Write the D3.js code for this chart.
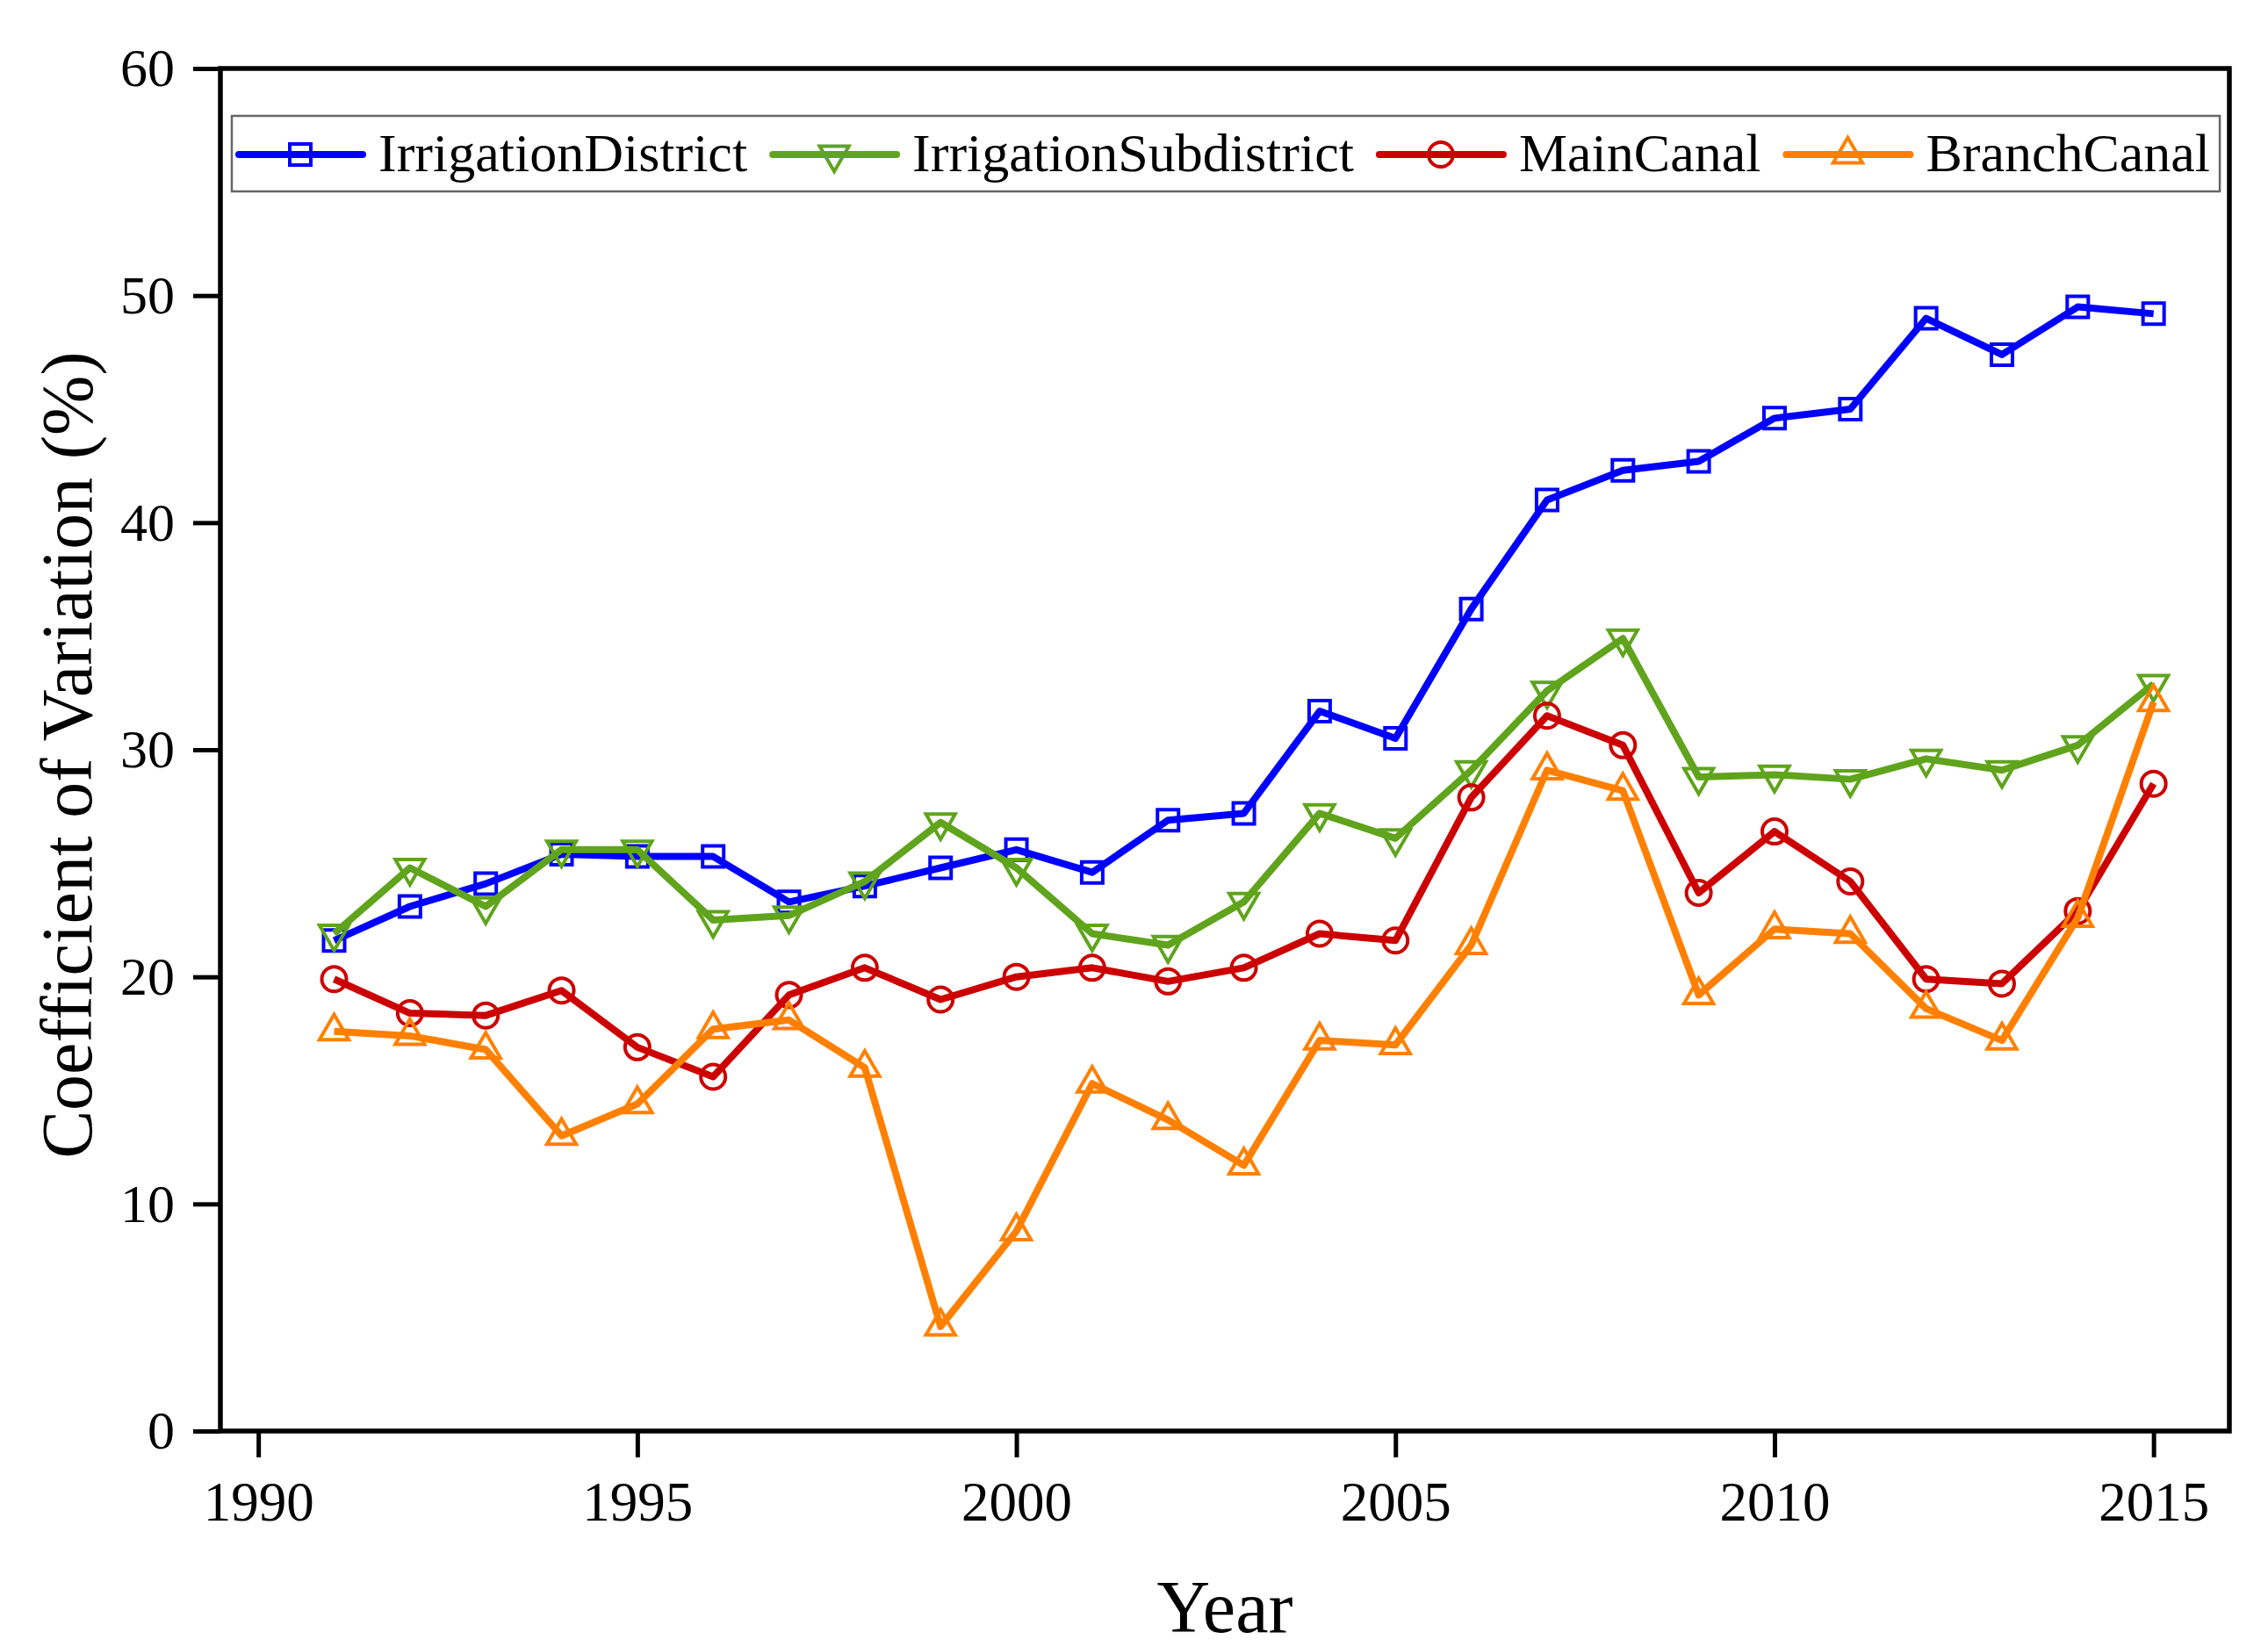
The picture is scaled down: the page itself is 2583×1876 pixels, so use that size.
<!DOCTYPE html>
<html>
<head>
<meta charset="utf-8">
<script src="https://cdn.jsdelivr.net/npm/d3@7"></script>
<style>
  body { margin: 0; background: #fff; }
  text { font-family: "Liberation Serif", "Times New Roman", serif; fill: #000; }
</style>
</head>
<body>
<div id="chart"></div>
<script>
// years on the x axis
var years = d3.range(1991, 2016);

// coefficient of variation (%) per series
var irrigationDistrict = [21.6, 23.1, 24.1, 25.4, 25.3, 25.3, 23.3, 24.0, 24.8, 25.6, 24.6, 26.9, 27.2,
    31.7, 30.5, 36.2, 41.0, 42.3, 42.7, 44.6, 45.0, 49.0, 47.4, 49.5, 49.2];
var irrigationSubdistrict = [21.9, 24.8, 23.1, 25.6, 25.6, 22.5, 22.7, 24.2, 26.8, 24.8, 21.9, 21.4, 23.3,
    27.2, 26.1, 29.1, 32.6, 34.9, 28.8, 28.9, 28.7, 29.6, 29.1, 30.2, 32.9];
var mainCanal = [19.9, 18.4, 18.3, 19.4, 16.9, 15.6, 19.2, 20.4, 19.0, 20.0, 20.4, 19.8, 20.4,
    21.9, 21.6, 27.9, 31.5, 30.2, 23.7, 26.4, 24.2, 19.9, 19.7, 22.9, 28.5];
var branchCanal = [17.6, 17.4, 16.8, 13.0, 14.4, 17.7, 18.1, 16.0, 4.6, 8.8, 15.3, 13.7, 11.7,
    17.2, 17.0, 21.4, 29.1, 28.2, 19.2, 22.1, 21.9, 18.6, 17.2, 22.6, 32.1];

var seriesNames = ["IrrigationDistrict", "IrrigationSubdistrict", "MainCanal", "BranchCanal"];
var seriesValues = [irrigationDistrict, irrigationSubdistrict, mainCanal, branchCanal];
var seriesColors = ["#0000ff", "#5fa41c", "#cc0000", "#ff8000"];
var seriesSymbols = ["square", "down", "circle", "up"];

var xTicks = [1990, 1995, 2000, 2005, 2010, 2015];
var yTicks = [0, 10, 20, 30, 40, 50, 60];

function buildChart(){
    var width = 2583, height = 1876;
    var pLeft = 251, pRight = 2539, pTop = 78, pBottom = 1630;

    var svg = d3.select("#chart").append("svg")
        .attr("width", width)
        .attr("height", height);

    var x = d3.scaleLinear().domain([1989.5, 2016]).range([pLeft, pRight]);
    var y = d3.scaleLinear().domain([0, 60]).range([pBottom, pTop]);

    // axes
    var xAxis = svg.append("g")
        .attr("transform", "translate(0," + pBottom + ")")
        .call(d3.axisBottom(x).tickValues(xTicks).tickFormat(d3.format("d")).tickSize(30).tickPadding(12));
    xAxis.select(".domain").remove();
    xAxis.selectAll("line").attr("stroke", "#000").attr("stroke-width", 5);
    xAxis.selectAll("text").attr("font-size", 63).attr("y", 102).attr("dy", 0);

    var yAxis = svg.append("g")
        .attr("transform", "translate(" + pLeft + ",0)")
        .call(d3.axisLeft(y).tickValues(yTicks).tickSize(31).tickPadding(21));
    yAxis.select(".domain").remove();
    yAxis.selectAll("line").attr("stroke", "#000").attr("stroke-width", 5);
    yAxis.selectAll("text").attr("font-size", 62);

    // frame
    svg.append("rect")
        .attr("x", pLeft).attr("y", pTop)
        .attr("width", pRight - pLeft).attr("height", pBottom - pTop)
        .attr("fill", "none").attr("stroke", "#000").attr("stroke-width", 5.5);

    // axis titles
    svg.append("text")
        .attr("x", (pLeft + pRight) / 2).attr("y", 1859)
        .attr("text-anchor", "middle").attr("font-size", 84)
        .text("Year");
    svg.append("text")
        .attr("transform", "translate(104," + ((pTop + pBottom) / 2 + 6) + ") rotate(-90)")
        .attr("text-anchor", "middle").attr("font-size", 82)
        .text("Coefficient of Variation (%)");

    function symbolPath(kind) {
        if (kind === "square") return d3.symbol(d3.symbolSquare, 24 * 24)();
        if (kind === "circle") return d3.symbol(d3.symbolCircle, Math.PI * 14 * 14)();
        return d3.symbol(d3.symbolTriangle, 480)();
    }

    function drawMarker(g, kind, color, cx, cy) {
        g.append("path")
            .attr("d", symbolPath(kind))
            .attr("transform", "translate(" + cx + "," + cy + ")" + (kind === "down" ? " rotate(180)" : ""))
            .attr("fill", "none")
            .attr("stroke", color)
            .attr("stroke-width", 4);
    }

    var line = d3.line()
        .x(function(d, i){ return x(years[i]); })
        .y(function(d){ return y(d); });

    var plot = svg.append("g");

    seriesValues.forEach(function(values, s){
        plot.append("path")
            .datum(values)
            .attr("d", line)
            .attr("fill", "none")
            .attr("stroke", seriesColors[s])
            .attr("stroke-width", 8)
            .attr("stroke-linejoin", "round");
        var mg = plot.append("g");
        values.forEach(function(v, i){
            drawMarker(mg, seriesSymbols[s], seriesColors[s], x(years[i]), y(v));
        });
    });

    // legend
    var legend = svg.append("g");
    var box = legend.append("rect")
        .attr("x", 264).attr("y", 132)
        .attr("height", 86)
        .attr("fill", "#fff").attr("stroke", "#666").attr("stroke-width", 2.5);

    var lx = 272, ly = 176;
    seriesNames.forEach(function(name, s){
        legend.append("line")
            .attr("x1", lx).attr("x2", lx + 141)
            .attr("y1", ly).attr("y2", ly)
            .attr("stroke", seriesColors[s]).attr("stroke-width", 8)
            .attr("stroke-linecap", "round");
        drawMarker(legend, seriesSymbols[s], seriesColors[s], lx + 70, ly);
        var t = legend.append("text")
            .attr("x", lx + 159).attr("y", 195)
            .attr("font-size", 62)
            .text(name);
        lx = lx + 159 + t.node().getComputedTextLength() + 29;
    });
    box.attr("width", lx - 29 + 11 - 264);
}

buildChart();
</script>
</body>
</html>
